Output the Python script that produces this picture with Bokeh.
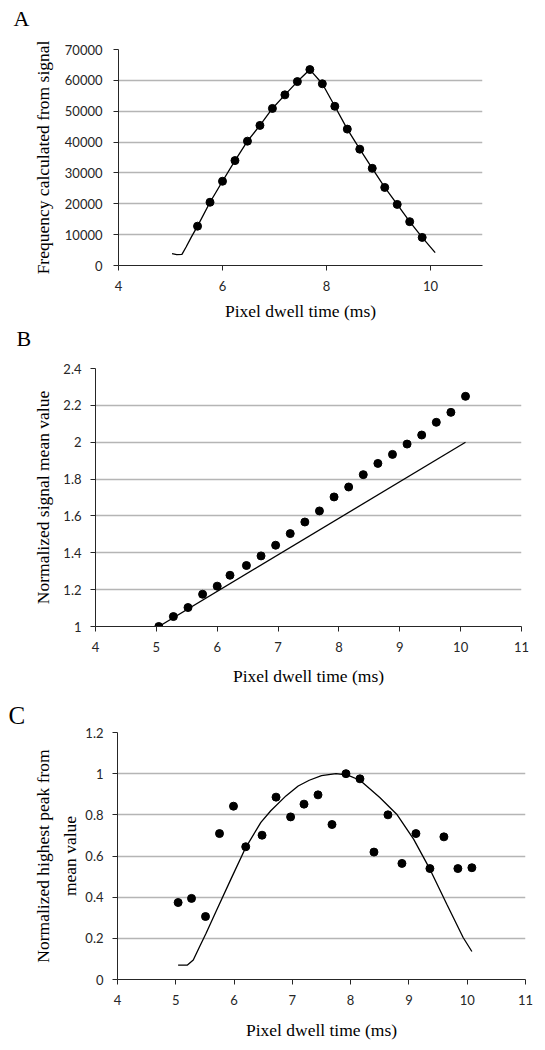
from bokeh.plotting import figure
from bokeh.models import Range1d, FixedTicker, NumeralTickFormatter, LinearAxis, Title
from bokeh.embed import file_html
from bokeh.resources import INLINE

# ---------------- data ----------------
# Panel A
a_dot_x = [5.52, 5.76, 6.00, 6.24, 6.48, 6.72, 6.96, 7.20, 7.44, 7.68,
           7.92, 8.16, 8.40, 8.64, 8.88, 9.12, 9.36, 9.60, 9.84]
a_dot_y = [12750, 20500, 27300, 34000, 40300, 45400, 50900, 55300, 59600, 63500,
           58900, 51600, 44200, 37700, 31500, 25300, 19800, 14200, 9100]
a_line_x = [5.03, 5.12, 5.22, 5.30, 5.40, 5.52, 5.76, 6.00, 6.24, 6.48, 6.72, 6.96,
            7.20, 7.44, 7.68, 7.92, 8.16, 8.40, 8.64, 8.88, 9.12, 9.36, 9.60,
            9.84, 10.09]
a_line_y = [3850, 3550, 3600, 6000, 9200, 12750, 20500, 27300, 34000, 40300, 45400,
            50900, 55300, 59600, 63500, 58900, 51600, 44200, 37700, 31500, 25300,
            19800, 14200, 9100, 4150]
a_xticks = [4, 6, 8, 10]
a_yticks = [0, 10000, 20000, 30000, 40000, 50000, 60000, 70000]

# Panel B
b_dot_x = [5.04, 5.28, 5.52, 5.76, 6.00, 6.21, 6.48, 6.72, 6.96, 7.20, 7.44,
           7.68, 7.92, 8.16, 8.40, 8.64, 8.88, 9.12, 9.36, 9.60, 9.84, 10.08]
b_dot_y = [1.000, 1.054, 1.103, 1.175, 1.219, 1.278, 1.331, 1.383, 1.441, 1.504, 1.567,
           1.627, 1.703, 1.757, 1.824, 1.885, 1.934, 1.990, 2.039, 2.108, 2.162, 2.249]
b_line_x = [5.04, 10.08]
b_line_y = [1.0, 2.0]
b_xticks = [4, 5, 6, 7, 8, 9, 10, 11]
b_yticks = [1.0, 1.2, 1.4, 1.6, 1.8, 2.0, 2.2, 2.4]

# Panel C
c_dot_x = [5.04, 5.27, 5.51, 5.75, 5.99, 6.20, 6.48, 6.72, 6.97, 7.20, 7.44,
           7.68, 7.92, 8.16, 8.40, 8.64, 8.88, 9.12, 9.36, 9.60, 9.84, 10.08]
c_dot_y = [0.374, 0.394, 0.306, 0.709, 0.842, 0.645, 0.701, 0.886, 0.790, 0.852, 0.897,
           0.753, 1.000, 0.975, 0.619, 0.800, 0.564, 0.709, 0.539, 0.693, 0.539, 0.543]
c_line_x = [5.04, 5.20, 5.30, 5.41, 5.52, 5.69, 5.95, 6.20, 6.46, 6.63, 6.89, 7.10,
            7.29, 7.50, 7.75, 7.95, 8.16, 8.50, 8.79, 9.08, 9.36, 9.65, 9.93, 10.08]
c_line_y = [0.070, 0.070, 0.095, 0.160, 0.225, 0.330, 0.490, 0.641, 0.763, 0.820, 0.892,
            0.940, 0.968, 0.990, 1.000, 0.993, 0.968, 0.884, 0.803, 0.682, 0.536, 0.366,
            0.204, 0.136]
c_xticks = [4, 5, 6, 7, 8, 9, 10, 11]
c_yticks = [0.0, 0.2, 0.4, 0.6, 0.8, 1.0, 1.2]

x_title = "Pixel dwell time (ms)"

TICK_FONT = "Lato"
LABEL_FONT = "Liberation Serif"
LABEL_SIZE = "17.5px"
DARK = "#262626"


def make_fig(xr, yr, xticks, yticks, yfmt, fw, fh, bl, br, bt, bb):
    p = figure(x_range=Range1d(*xr), y_range=Range1d(*yr),
               frame_width=fw, frame_height=fh,
               min_border_left=bl, min_border_right=br,
               min_border_top=bt, min_border_bottom=bb,
               output_backend="svg", toolbar_location=None)
    p.outline_line_color = None
    p.background_fill_color = "white"
    p.border_fill_color = "white"
    p.xgrid.visible = False
    yt = FixedTicker(ticks=yticks)
    p.yaxis.ticker = yt
    p.ygrid.ticker = yt
    p.ygrid.grid_line_color = "#b5b5b5"
    p.ygrid.grid_line_width = 1.3
    p.xaxis.ticker = FixedTicker(ticks=xticks)
    p.yaxis.formatter = NumeralTickFormatter(format=yfmt)
    p.xaxis.formatter = NumeralTickFormatter(format="0")
    for ax in p.axis:
        ax.axis_line_color = DARK
        ax.axis_line_width = 1
        ax.major_tick_line_color = DARK
        ax.major_tick_out = 5
        ax.major_tick_in = 0
        ax.minor_tick_line_color = None
        ax.major_label_text_font = TICK_FONT
        ax.major_label_text_font_size = "13px"
        ax.major_label_text_color = DARK
        ax.axis_label_text_font = LABEL_FONT
        ax.axis_label_text_font_size = LABEL_SIZE
        ax.axis_label_text_font_style = "normal"
        ax.axis_label_text_color = "black"
    return p


def spacer_axis(size):
    # invisible axis placed between the frame and the panel letter
    return LinearAxis(ticker=FixedTicker(ticks=[]), axis_line_color=None,
                      major_tick_line_color=None, minor_tick_line_color=None,
                      major_tick_out=0, major_tick_in=0,
                      major_label_text_font_size="0px", major_label_standoff=0,
                      axis_label=" ", axis_label_text_font_size="1px",
                      axis_label_standoff=size)


def letter(p, text, offset, standoff, size, where="above", valign="top"):
    p.add_layout(Title(text=text, align="left", vertical_align=valign,
                       offset=offset, standoff=standoff,
                       text_font=LABEL_FONT, text_font_size=size,
                       text_font_style="normal", text_color="black"), where)


# ---------------- Panel A ----------------
pa = make_fig((4, 11), (0, 70000), a_xticks, a_yticks, "0",
              fw=364, fh=216, bl=118, br=58, bt=49, bb=84)
pa.line(a_line_x, a_line_y, line_color="black", line_width=1.3)
pa.scatter(a_dot_x, a_dot_y, size=8, color="black")
pa.yaxis.axis_label = "Frequency calculated from signal"
pa.xaxis.axis_label = x_title
pa.yaxis.major_label_standoff = 11
pa.yaxis.axis_label_standoff = 9
pa.xaxis.major_label_standoff = 10
pa.xaxis.axis_label_standoff = 7
pa.add_layout(spacer_axis(8), "above")
letter(pa, "A", -105, 10, "22px")
# letter of panel B sits just under panel A's axis title
letter(pa, "B", -102, 0, "22px", where="below", valign="bottom")

# ---------------- Panel B ----------------
pb = make_fig((4, 11), (1, 2.4), b_xticks, b_yticks, "0.[0]",
              fw=426, fh=258, bl=95, br=19, bt=18, bb=73)
pb.line(b_line_x, b_line_y, line_color="black", line_width=1.3)
pb.scatter(b_dot_x, b_dot_y, size=8, color="black")
pb.yaxis.axis_label = "Normalized signal mean value"
pb.xaxis.axis_label = x_title
pb.yaxis.major_label_standoff = 9
pb.yaxis.axis_label_standoff = 7
pb.xaxis.major_label_standoff = 10
pb.xaxis.axis_label_standoff = 11

# ---------------- Panel C ----------------
pc = make_fig((4, 11), (0, 1.2), c_xticks, c_yticks, "0.[0]",
              fw=408, fh=247, bl=117, br=15, bt=33, bb=63)
pc.line(c_line_x, c_line_y, line_color="black", line_width=1.3)
pc.scatter(c_dot_x, c_dot_y, size=8, color="black")
pc.yaxis.axis_label = "mean value"
pc.xaxis.axis_label = x_title
pc.yaxis.major_label_standoff = 9
pc.yaxis.axis_label_standoff = 2
pc.xaxis.major_label_standoff = 10
pc.xaxis.axis_label_standoff = 12
extra = LinearAxis(ticker=FixedTicker(ticks=[]), axis_label="Normalized highest peak from",
                   axis_line_color=None, major_tick_line_color=None,
                   minor_tick_line_color=None, major_tick_out=0, major_tick_in=0,
                   major_label_text_font_size="0px", major_label_standoff=0,
                   axis_label_standoff=5,
                   axis_label_text_font=LABEL_FONT, axis_label_text_font_size=LABEL_SIZE,
                   axis_label_text_font_style="normal", axis_label_text_color="black")
pc.add_layout(extra, "left")
letter(pc, "C", -109, 3, "25px")

open("out.html", "w").write(file_html([pa, pb, pc], INLINE))
